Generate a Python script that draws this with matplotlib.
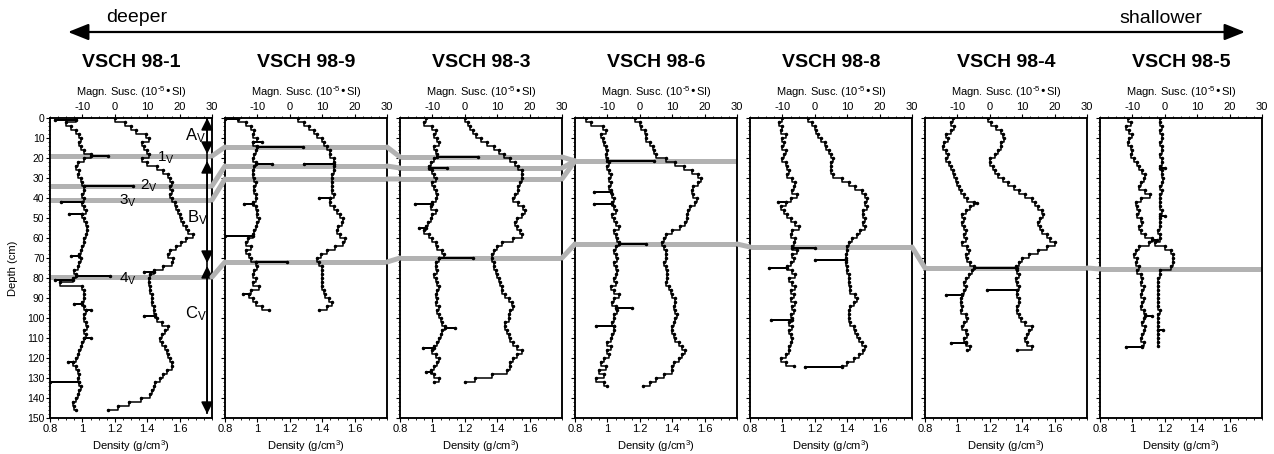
import numpy as np
import matplotlib.pyplot as plt
from matplotlib.patches import ConnectionPatch
from matplotlib.ticker import MultipleLocator

plt.rcParams['font.family'] = ['Liberation Sans', 'DejaVu Sans']
plt.rcParams['mathtext.default'] = 'regular'
plt.rcParams['axes.unicode_minus'] = False

# cores, ordered from deeper to shallower water
cores = ['VSCH 98-1', 'VSCH 98-9', 'VSCH 98-3', 'VSCH 98-6', 'VSCH 98-8', 'VSCH 98-4', 'VSCH 98-5']
step = 2  # cm between readings

# density (g/cm3), one reading every 2 cm from the core top
dens_98_1 = [1.20, 1.26, 1.30, 1.33, 1.39, 1.41, 1.37, 1.38, 1.40, 1.41, 1.37, 1.40, 1.46, 1.50, 1.53,
             1.54, 1.55, 1.54, 1.55, 1.54, 1.55, 1.57, 1.58, 1.59, 1.60, 1.61, 1.62, 1.64, 1.65, 1.68,
             1.64, 1.61, 1.58, 1.54, 1.53, 1.56, 1.55, 1.50, 1.44, 1.42, 1.41, 1.41, 1.42, 1.42, 1.43,
             1.43, 1.43, 1.44, 1.44, 1.45, 1.46, 1.49, 1.53, 1.51, 1.49, 1.48, 1.49, 1.51, 1.52, 1.53,
             1.54, 1.55, 1.55, 1.52, 1.50, 1.48, 1.45, 1.44, 1.43, 1.42, 1.36, 1.29, 1.22, 1.16]
dens_98_9 = [1.25, 1.29, 1.32, 1.35, 1.37, 1.40, 1.41, 1.43, 1.45, 1.45, 1.47, 1.47, 1.47, 1.47, 1.46,
             1.46, 1.46, 1.46, 1.46, 1.47, 1.45, 1.45, 1.47, 1.49, 1.51, 1.53, 1.52, 1.50, 1.49, 1.51,
             1.54, 1.53, 1.48, 1.43, 1.39, 1.37, 1.38, 1.40, 1.40, 1.40, 1.40, 1.40, 1.40, 1.41, 1.42,
             1.44, 1.46, 1.43, 1.38]
dens_98_3 = [1.20, 1.22, 1.23, 1.25, 1.27, 1.30, 1.34, 1.38, 1.41, 1.44, 1.48, 1.51, 1.53, 1.55, 1.55,
             1.55, 1.54, 1.53, 1.53, 1.51, 1.50, 1.53, 1.56, 1.57, 1.55, 1.52, 1.51, 1.52, 1.54, 1.55,
             1.50, 1.43, 1.40, 1.38, 1.37, 1.37, 1.38, 1.38, 1.39, 1.40, 1.41, 1.42, 1.43, 1.43, 1.45,
             1.47, 1.49, 1.50, 1.48, 1.47, 1.47, 1.45, 1.45, 1.46, 1.47, 1.48, 1.50, 1.52, 1.55, 1.52,
             1.50, 1.48, 1.48, 1.46, 1.37, 1.26, 1.20]
dens_98_6 = [1.17, 1.20, 1.21, 1.23, 1.24, 1.24, 1.26, 1.28, 1.29, 1.30, 1.36, 1.42, 1.47, 1.52, 1.56,
             1.58, 1.56, 1.53, 1.52, 1.53, 1.55, 1.54, 1.51, 1.50, 1.49, 1.49, 1.48, 1.45, 1.40, 1.36,
             1.35, 1.34, 1.35, 1.36, 1.36, 1.36, 1.35, 1.36, 1.37, 1.37, 1.37, 1.36, 1.38, 1.39, 1.40,
             1.42, 1.42, 1.41, 1.42, 1.43, 1.42, 1.41, 1.40, 1.40, 1.41, 1.42, 1.44, 1.46, 1.48, 1.46,
             1.44, 1.41, 1.40, 1.40, 1.35, 1.30, 1.26, 1.22]
dens_98_8 = [1.16, 1.18, 1.20, 1.21, 1.22, 1.24, 1.26, 1.27, 1.29, 1.30, 1.31, 1.30, 1.30, 1.30, 1.31,
             1.37, 1.41, 1.45, 1.49, 1.51, 1.52, 1.51, 1.52, 1.50, 1.50, 1.51, 1.50, 1.51, 1.48, 1.46,
             1.43, 1.41, 1.40, 1.40, 1.39, 1.39, 1.39, 1.40, 1.40, 1.41, 1.41, 1.41, 1.42, 1.42, 1.45,
             1.46, 1.44, 1.42, 1.41, 1.41, 1.41, 1.42, 1.44, 1.45, 1.46, 1.47, 1.49, 1.51, 1.50, 1.47,
             1.44, 1.40, 1.37]
dens_98_4 = [1.19, 1.21, 1.24, 1.27, 1.28, 1.29, 1.27, 1.27, 1.25, 1.23, 1.20, 1.20, 1.22, 1.23, 1.25,
             1.28, 1.31, 1.35, 1.38, 1.42, 1.46, 1.48, 1.50, 1.52, 1.53, 1.51, 1.50, 1.51, 1.52, 1.55,
             1.57, 1.60, 1.55, 1.50, 1.44, 1.40, 1.38, 1.36, 1.37, 1.38, 1.36, 1.37, 1.38, 1.37, 1.37,
             1.38, 1.38, 1.37, 1.37, 1.38, 1.39, 1.42, 1.46, 1.44, 1.43, 1.42, 1.43, 1.46, 1.37]
dens_98_5 = [1.17, 1.17, 1.18, 1.17, 1.18, 1.18, 1.17, 1.18, 1.18, 1.17, 1.18, 1.18, 1.17, 1.18, 1.18,
             1.19, 1.18, 1.17, 1.18, 1.17, 1.17, 1.17, 1.17, 1.18, 1.17, 1.17, 1.17, 1.17, 1.16, 1.17,
             1.17, 1.14, 1.20, 1.24, 1.25, 1.25, 1.25, 1.24, 1.17, 1.17, 1.16, 1.16, 1.16, 1.16, 1.16,
             1.16, 1.16, 1.16, 1.17, 1.16, 1.16, 1.16, 1.16, 1.16, 1.16, 1.16, 1.16, 1.16]

# magnetic susceptibility (10^-5 SI), one reading every 2 cm
ms_98_1 = [-12, -15, -13.5, -12, -11, -10.5, -11, -10.5, -9.5, -7.5, -9.5, -11.5, -12, -11, -11.5,
           -10.5, -10, -9.5, -9.5, -10, -9.5, -10, -9.5, -9, -10, -9.5, -9, -8.5, -8.5, -9,
           -9.5, -9.5, -10, -10.5, -11, -10.5, -11, -11.5, -12.5, -12, -13, -17, -10, -9.5, -9.5,
           -9.5, -10, -9.5, -9, -9.5, -9.5, -9, -8.5, -9.5, -9, -9.5, -10, -10.5, -11, -11.5,
           -12, -13, -12, -11.5, -11, -11.5, -11, -10.5, -11, -11.5, -12, -13, -12.5, -12]
ms_98_9 = [-16, -13.5, -12, -11, -11.5, -10, -11.5, -10, -10.5, -11, -11.5, -10.5, -11, -11.5, -11.5,
           -11, -10.5, -11, -11, -10.5, -10.5, -11.5, -10.5, -10, -10, -9.5, -10, -10.5, -11, -11.5,
           -13, -13.5, -12, -13.5, -12.5, -12, -10.5, -10, -11, -11.5, -10.5, -11.5, -9.5, -12, -12.5,
           -11.5, -10.5, -8.5, -6.5]
ms_98_3 = [-12, -12.5, -10, -9, -9.5, -8.5, -8, -9.5, -9, -8.5, -9.5, -10.5, -11, -10, -9.5,
           -9, -10, -9.5, -9, -8.5, -9, -10, -10.5, -9, -10, -10.5, -11.5, -12, -12.5, -11,
           -10, -9, -8.5, -7, -6.5, -8, -9, -9, -8.5, -9.5, -9, -8.5, -8, -8.5, -9,
           -8.5, -9, -8, -8.5, -8, -7.5, -7, -6, -7, -7.5, -8, -8.5, -9.5, -10, -9,
           -8, -8.5, -9.5, -10.5, -9.5, -8, -9.5]
ms_98_6 = [-16.5, -15, -11.5, -10.5, -12, -11.5, -11, -10.5, -10, -10.5, -10, -9.5, -10, -9.5, -9,
           -9.5, -9, -9.5, -9, -8.5, -8, -8.5, -8, -7.5, -8.5, -8, -7.5, -6.5, -8, -7.5,
           -7, -6.5, -7.5, -8, -7.5, -7, -8, -7.5, -7, -7.5, -8, -7.5, -9, -8, -6.5,
           -8, -8.5, -7.5, -7, -8, -8, -8.5, -8, -8, -8.5, -9, -10, -9, -10, -9.5,
           -11, -12, -10.5, -12.5, -11, -13.5, -11, -10]
ms_98_8 = [-10, -11, -10, -10.5, -9, -10, -9.5, -10, -9, -9.5, -10, -9, -8.5, -8, -8.5,
           -7, -6, -6.5, -7, -5.5, -7.5, -9, -10.5, -9.5, -8.5, -7.5, -6, -5, -7, -7.5,
           -6, -6.5, -7, -5.5, -7, -6.5, -7.5, -8.5, -7, -6, -8, -7, -6, -7.5, -6.5,
           -7.5, -6, -7, -6.5, -7.5, -7, -8, -7, -8, -7.5, -7, -7.5, -8, -8, -9,
           -10.5, -9, -6.5]
ms_98_4 = [-11.5, -12, -11, -12, -13.5, -13, -14, -14.5, -13.5, -13, -13.5, -12.5, -12, -11.5, -11,
           -10.5, -10, -9.5, -9, -8, -7, -5, -6, -7.5, -8.5, -8, -8.5, -8, -7.5, -8,
           -7.5, -8.5, -7, -6.5, -7.5, -7, -6, -5, -5.5, -6.5, -7.5, -8, -7.5, -8, -8.5,
           -9, -9, -8.5, -9, -7.5, -7, -8, -8.5, -7.5, -7, -8, -7.5, -6, -7]
ms_98_5 = [-11.5, -10.5, -12, -11, -10, -11, -11.5, -10.5, -10, -10.5, -9.5, -8.5, -8, -7, -6,
           -6.5, -7.5, -8, -6, -4.5, -7.5, -9, -8.5, -8, -8.5, -7.5, -7, -8, -7.5, -6,
           -4, -5, -8, -9, -9.5, -8.5, -9, -8, -8.5, -7.5, -7, -7.5, -6.5, -7, -7.5,
           -6.5, -7, -7.5, -6.5, -6, -6.5, -7, -6, -6.5, -7, -7.5, -6.5, -7]

# single-reading excursions (depth cm, value)
dens_spk_98_1 = [(77, 1.38), (99, 1.38)]
dens_spk_98_9 = [(23, 1.29), (40, 1.38)]
dens_spk_98_3 = []
dens_spk_98_6 = []
dens_spk_98_8 = [(71, 1.20), (124.5, 1.14)]
dens_spk_98_4 = [(86, 1.18)]
dens_spk_98_5 = [(25, 1.20), (49, 1.20), (106, 1.19)]
ms_spk_98_1 = [(1, -18.5), (19, -2), (34, 5.5), (42, -16.5), (48, -14), (69, -13.5), (79, -1.5),
               (81, -18.5), (93, -12.5), (96, -7.5), (110, -7.5), (122, -14.5), (132, -20)]
ms_spk_98_9 = [(0.5, -20), (12, -8.5), (14.5, 4), (23, -5.5), (43, -14), (59, -20), (72, -1), (88, -14.5)]
ms_spk_98_3 = [(19.5, 4), (25, -5.5), (43, -15.5), (55, -14), (70, 2.5), (105, -3), (115, -13), (127, -12)]
ms_spk_98_6 = [(21.5, 4.5), (37, -14), (43, -14), (63, 2), (95, -2.5), (104, -13.5)]
ms_spk_98_8 = [(42, -11.5), (65, 0), (75, -14), (101, -13.5)]
ms_spk_98_4 = [(42.5, -4), (75, 8.5), (88.5, -13.5), (112.5, -12)]
ms_spk_98_5 = [(61, -2.5), (99, -4), (114.5, -12)]

dens_all = [dens_98_1, dens_98_9, dens_98_3, dens_98_6, dens_98_8, dens_98_4, dens_98_5]
ms_all = [ms_98_1, ms_98_9, ms_98_3, ms_98_6, ms_98_8, ms_98_4, ms_98_5]
dens_spk_all = [dens_spk_98_1, dens_spk_98_9, dens_spk_98_3, dens_spk_98_6, dens_spk_98_8, dens_spk_98_4, dens_spk_98_5]
ms_spk_all = [ms_spk_98_1, ms_spk_98_9, ms_spk_98_3, ms_spk_98_6, ms_spk_98_8, ms_spk_98_4, ms_spk_98_5]

# correlated event horizons, depth (cm) in each core, None where not traced
band_1v = [19, 14.5, 19.5, 21.5, None, None, None]
band_2v = [34, 24, 25, 21.5, None, None, None]
band_3v = [41, 30.5, 30.5, 21.5, None, None, None]
band_4v = [79.5, 72, 70, 63, 64.5, 75, 75.5]
bands = [band_1v, band_2v, band_3v, band_4v]

# seismic units in VSCH 98-1
zone_names = ['A', 'B', 'C']
zone_top = [0, 21.5, 74]
zone_bottom = [18, 72.5, 148]
zone_label_x = [1.633, 1.646, 1.633]
zone_label_depth = [11, 52, 100]
event_names = ['1', '2', '3', '4']
event_label_x = [1.46, 1.356, 1.227, 1.227]
event_label_depth = [22, 36, 43.5, 82.5]


def with_spikes(vals, spikes):
    depth = list(np.arange(len(vals)) * step)
    x = list(vals)
    for sd, sv in sorted(spikes, reverse=True):
        i = int(np.searchsorted(depth, sd, side='right'))
        base = x[i - 1]
        depth[i:i] = [sd, sd]
        x[i:i] = [sv, base]
    return np.array(x, float), np.array(depth, float)


band_color = '#b2b2b2'
band_lw = 3.6
fig = plt.figure(figsize=(12.74, 4.54), dpi=100)
W, H = 1274.0, 454.0
axes = []
for i, name in enumerate(cores):
    ax = fig.add_axes([(50 + 175 * i) / W, 36 / H, 162 / W, 300 / H])
    axt = ax.twiny()
    axes.append(ax)

    ax.set_xlim(0.8, 1.8)
    axt.set_xlim(-20, 30)
    ax.set_ylim(150, 0)

    for b in bands:
        if b[i] is not None:
            ax.axhline(b[i], color=band_color, lw=band_lw, solid_capstyle='butt', zorder=0.5)

    x, d = with_spikes(dens_all[i], dens_spk_all[i])
    ax.plot(x, d, color='k', lw=1.1, drawstyle='steps-pre', marker='.', ms=3, zorder=2)
    x, d = with_spikes(ms_all[i], ms_spk_all[i])
    axt.plot(x, d, color='k', lw=1.1, drawstyle='steps-pre', marker='.', ms=3, zorder=2)

    ax.set_xticks([0.8, 1.0, 1.2, 1.4, 1.6])
    ax.set_xticklabels(['0.8', '1', '1.2', '1.4', '1.6'])
    ax.xaxis.set_minor_locator(MultipleLocator(0.05))
    axt.set_xticks([-10, 0, 10, 20, 30])
    axt.xaxis.set_minor_locator(MultipleLocator(2.5))
    ax.set_yticks(np.arange(0, 151, 10))
    ax.yaxis.set_minor_locator(MultipleLocator(2))
    if i > 0:
        ax.set_yticklabels([])

    for a in (ax, axt):
        for s in a.spines.values():
            s.set_linewidth(1.1)
        a.tick_params(which='major', direction='out', length=3, width=0.8, pad=1.5, labelsize=8)
        a.tick_params(which='minor', direction='out', length=1.5, width=0.6)
    ax.tick_params(axis='y', labelsize=7.5, pad=1)

    axt.set_xlabel('Magn. Susc. (10$^{\\text{-}5}$•SI)', fontsize=8)
    axt.xaxis.set_label_coords(0.5, 1.072)
    ax.set_xlabel('Density (g/cm$^3$)', fontsize=8)
    ax.xaxis.set_label_coords(0.5, -0.068)
    ax.text(0.5, 1.17, name, transform=ax.transAxes, ha='center', va='baseline',
            fontsize=14, fontweight='bold')

axes[0].set_ylabel('Depth (cm)', fontsize=8)
axes[0].yaxis.set_label_coords(-0.2, 0.5)

# links between cores
for b in bands:
    for i in range(len(cores) - 1):
        if b[i] is None or b[i + 1] is None:
            continue
        con = ConnectionPatch(xyA=(1.8, b[i]), coordsA=axes[i].transData,
                              xyB=(0.8, b[i + 1]), coordsB=axes[i + 1].transData,
                              color=band_color, lw=band_lw, zorder=0.4)
        fig.add_artist(con)

# unit arrows and labels in the first core
ax = axes[0]
ax.vlines(1.77, zone_top[0], zone_bottom[-1], color='k', lw=1.2, zorder=3)
for n, t, btm, lx, ld in zip(zone_names, zone_top, zone_bottom, zone_label_x, zone_label_depth):
    ax.annotate('', xy=(1.77, t), xytext=(1.77, btm),
                arrowprops=dict(arrowstyle='<|-|>,head_length=0.6,head_width=0.3', color='k',
                                lw=1.2, shrinkA=0, shrinkB=0, mutation_scale=12), zorder=3)
    ax.text(lx, ld, n + '$_{V}$', fontsize=12, va='baseline', ha='left', zorder=3)
for n, lx, ld in zip(event_names, event_label_x, event_label_depth):
    ax.text(lx, ld, n + '$_{V}$', fontsize=11, va='baseline', ha='left', zorder=3)

# water depth arrow
fig.add_artist(plt.Annotation('', xy=(68 / W, 1 - 32 / H), xytext=(1245 / W, 1 - 32 / H),
                              xycoords='figure fraction', textcoords='figure fraction',
                              arrowprops=dict(arrowstyle='<|-|>,head_length=0.5,head_width=0.2',
                                              color='k', lw=1.6, shrinkA=0, shrinkB=0,
                                              mutation_scale=25)))
fig.text(137 / W, 1 - 22 / H, 'deeper', ha='center', va='baseline', fontsize=14)
fig.text(1161 / W, 1 - 23 / H, 'shallower', ha='center', va='baseline', fontsize=14)

fig.savefig('out.png', dpi=100)
